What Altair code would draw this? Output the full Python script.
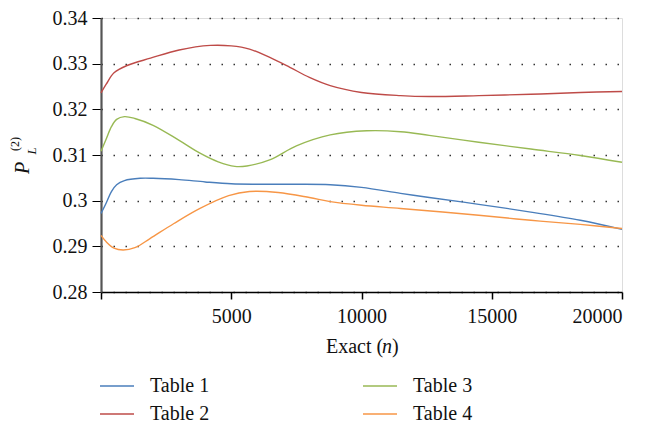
import altair as alt
import pandas as pd

# ---- data ----
t1_n = [0, 200, 400, 600, 900, 1500, 2000, 3000, 4000, 5000, 6000, 7500, 8800, 10000, 11500, 12600, 14500, 16500, 18400, 20000]
t1_v = [0.2972, 0.2995, 0.3020, 0.3035, 0.3044, 0.3049, 0.3049, 0.3046, 0.3041, 0.3037, 0.3036, 0.3036, 0.3035, 0.3029, 0.3016, 0.3007, 0.2992, 0.2975, 0.2957, 0.2937]

t2_n = [0, 200, 500, 1000, 1900, 3000, 4200, 5000, 5700, 6500, 7250, 8000, 8800, 10000, 11500, 12600, 14500, 16500, 18400, 20000]
t2_v = [0.3236, 0.3255, 0.3280, 0.3296, 0.3312, 0.3330, 0.3340, 0.3339, 0.3332, 0.3313, 0.3292, 0.3270, 0.3252, 0.3237, 0.3230, 0.3228, 0.3230, 0.3233, 0.3237, 0.3239]

t3_n = [0, 200, 400, 600, 900, 1300, 2000, 3000, 3800, 4500, 5140, 5600, 6500, 7500, 8800, 10200, 11500, 12600, 14500, 16500, 18400, 20000]
t3_v = [0.3108, 0.3135, 0.3162, 0.3178, 0.3184, 0.3180, 0.3165, 0.3132, 0.3104, 0.3085, 0.3075, 0.3076, 0.3090, 0.3120, 0.3144, 0.3153, 0.3151, 0.3143, 0.3128, 0.3113, 0.3099, 0.3084]

t4_n = [0, 200, 500, 850, 1300, 1880, 2800, 3800, 4900, 5700, 6800, 8000, 8800, 10000, 11500, 14500, 16500, 18400, 20000]
t4_v = [0.2924, 0.2910, 0.2896, 0.2892, 0.2897, 0.2917, 0.2950, 0.2983, 0.3011, 0.3020, 0.3018, 0.3007, 0.2998, 0.2990, 0.2983, 0.2968, 0.2957, 0.2948, 0.2939]

series_names = ["Table 1", "Table 2", "Table 3", "Table 4"]
series_colors = ["#4a7ebb", "#be4b48", "#98b954", "#f79646"]
legend_order = ["Table 1", "Table 3", "Table 2", "Table 4"]

y_ticks = [0.28, 0.29, 0.30, 0.31, 0.32, 0.33, 0.34]
x_ticks = [0, 5000, 10000, 15000, 20000]

rows = []
for name, ns, vs in zip(series_names, [t1_n, t2_n, t3_n, t4_n], [t1_v, t2_v, t3_v, t4_v]):
    for n, v in zip(ns, vs):
        rows.append({"series": name, "n": n, "v": v})
df = pd.DataFrame(rows)

color_map = dict(zip(series_names, series_colors))
FONT = "Liberation Serif"

lines = alt.Chart(df).mark_line(interpolate="catmull-rom", strokeWidth=1.4).encode(
    x=alt.X("n:Q", scale=alt.Scale(domain=[0, 20000], nice=False, zero=False),
            axis=alt.Axis(values=x_ticks, format="d", title=None, grid=False,
                          labelExpr="datum.value == 0 ? '' : datum.label",
                          domainColor="#000", domainWidth=1.5, tickColor="#000",
                          tickWidth=1.5, tickSize=7, labelPadding=7,
                          labelFont=FONT, labelFontSize=20, labelColor="#111")),
    y=alt.Y("v:Q", scale=alt.Scale(domain=[0.28, 0.34], nice=False, zero=False),
            axis=alt.Axis(values=y_ticks, format=".2~f", title=None, grid=True,
                          gridDash=[1.5, 10.5], gridColor="#333", gridWidth=1.3,
                          domainColor="#555", domainWidth=2.2, tickColor="#000",
                          tickWidth=1, tickSize=9, labelPadding=5,
                          labelFont=FONT, labelFontSize=20, labelColor="#111")),
    color=alt.Color("series:N",
                    scale=alt.Scale(domain=legend_order,
                                    range=[color_map[s] for s in legend_order]),
                    legend=alt.Legend(title=None, orient="none", legendX=-2, legendY=350,
                                      columns=2, direction="horizontal",
                                      symbolType="stroke", symbolSize=1156,
                                      symbolStrokeWidth=1.4, labelOffset=15,
                                      columnPadding=150, rowPadding=-9,
                                      labelFont=FONT, labelFontSize=20, labelColor="#111",
                                      labelLimit=200)),
    order="series:N",
)

def txt(text, x, y, size, style="normal", angle=0, align="center", baseline="middle"):
    return alt.Chart(pd.DataFrame({"t": [text]})).mark_text(
        font=FONT, fontSize=size, fontStyle=style, angle=angle, align=align,
        baseline=baseline, color="#111"
    ).encode(text="t:N", x=alt.value(x), y=alt.value(y))

# x-axis title "Exact (n)" with italic n
xt1 = txt("Exact (", 225, 335, 20, align="left", baseline="alphabetic")
xt2 = txt("n", 281, 335, 20, style="italic", align="left", baseline="alphabetic")
xt3 = txt(")", 291, 335, 20, align="left", baseline="alphabetic")

# y-axis title P_L^(2)
yt1 = txt("P", -78, 150, 20, style="italic", angle=270)
yt2 = txt("L", -69, 133, 13, style="italic", angle=270)
yt3 = txt("(2)", -86, 126, 12, angle=270)

chart = alt.layer(lines, xt1, xt2, xt3, yt1, yt2, yt3).properties(
    width=521, height=274,
    autosize=alt.AutoSizeParams(type="none"),
    padding={"left": 93, "top": 10, "right": 28, "bottom": 132},
).configure_view(stroke=None).configure(background="white", font=FONT)

chart.save("out.html", embed_options={"renderer": "svg", "actions": False})
